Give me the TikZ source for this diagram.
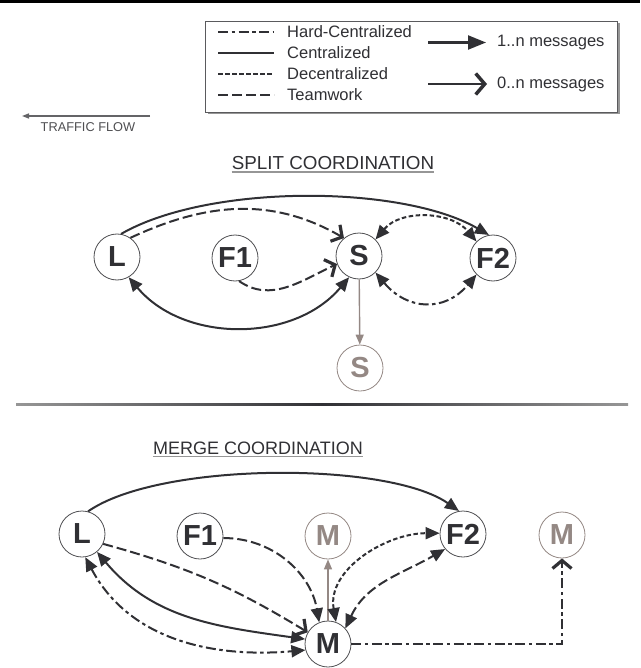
\documentclass[tikz,border=0pt]{standalone}
\usepackage{fontspec}
\setmainfont{Liberation Sans}
\usetikzlibrary{arrows.meta}
\definecolor{ink}{RGB}{48,48,52}
\definecolor{ghost}{RGB}{148,136,132}
\definecolor{softgrey}{RGB}{150,150,150}

\begin{document}
\begin{tikzpicture}[x=1pt,y=1pt,
  every node/.style={inner sep=0pt, text=ink},
  agent/.style={circle, draw=ink!85, line width=0.8pt, fill=white, minimum size=46pt,
    font=\fontsize{29}{29}\selectfont\bfseries},
  ghostagent/.style={agent, draw=ghost, text=ghost},
  link/.style={draw=ink, line width=2pt},
  hardc/.style={link, dash pattern=on 10pt off 3.5pt on 3.5pt off 3.5pt},
  central/.style={link},
  decentral/.style={link, dash pattern=on 4.5pt off 2.5pt},
  teamwork/.style={link, dash pattern=on 10pt off 4pt},
  one/.style={-{Triangle[length=14pt,width=12pt]}},
  both/.style={{Triangle[length=14pt,width=12pt]}-{Triangle[length=14pt,width=12pt]}},
  zero/.style={-{Straight Barb[length=8pt,width=19pt,line width=3.2pt]}},
  ghostline/.style={draw=ghost, line width=1.4pt, -{Triangle[length=10pt,width=8pt]}},
  legendtext/.style={anchor=west, font=\fontsize{16.5}{18}\selectfont},
  heading/.style={font=\fontsize{18}{21}\selectfont},
]
\useasboundingbox (0,0) rectangle (640,-668);

% top rule
\fill[black] (0,0) rectangle (640,-3.2);

% legend box with drop shadow
\fill[softgrey] (207.5,-23.5) rectangle (619.5,-114.5);
\draw[ink!80, line width=0.8pt, fill=white] (205,-21) rectangle (617,-112);

\coordinate (k1a) at (218,-32);  \coordinate (k1b) at (274,-32);
\coordinate (k2a) at (218,-53);  \coordinate (k2b) at (274,-53);
\coordinate (k3a) at (218,-74);  \coordinate (k3b) at (274,-74);
\coordinate (k4a) at (218,-95);  \coordinate (k4b) at (274,-95);
\draw[hardc, line width=1.6pt] (k1a) -- (k1b);
\draw[central, line width=1.6pt] (k2a) -- (k2b);
\draw[decentral, line width=1.6pt] (k3a) -- (k3b);
\draw[teamwork, line width=1.6pt] (k4a) -- (k4b);
\node[legendtext] (t1) at (287,-32) {Hard-Centralized};
\node[legendtext] (t2) at (287,-53) {Centralized};
\node[legendtext] (t3) at (287,-74) {Decentralized};
\node[legendtext] (t4) at (287,-95) {Teamwork};

\coordinate (a1a) at (428,-42.5); \coordinate (a1b) at (486,-42.5);
\coordinate (a2a) at (428,-84);   \coordinate (a2b) at (487,-84);
\draw[link, line width=2.2pt, -{Triangle[length=18pt,width=14pt]}] (a1a) -- (a1b);
\draw[link, line width=2.2pt, -{Straight Barb[length=9pt,width=21pt,line width=3.5pt]}] (a2a) -- (a2b);
\node[legendtext] (t5) at (497,-42.5) {1..n messages};
\node[legendtext] (t6) at (497,-84) {0..n messages};

% traffic direction
\coordinate (tfa) at (150,-116);
\coordinate (tfb) at (22,-116);
\draw[ink!75, line width=1.3pt, -{Triangle[length=7pt,width=5pt]}] (tfa) -- (tfb);
\node[font=\fontsize{12.8}{14}\selectfont, text=ink!85] (tflow) at (88,-127.5) {TRAFFIC FLOW};

% ---------- split coordination ----------
\node[heading, font=\fontsize{18.8}{21}\selectfont] (tsplit) at (333,-163) {SPLIT COORDINATION};
\draw[softgrey, line width=1.3pt] ([yshift=-2.5pt]tsplit.base west) -- ([yshift=-2.5pt]tsplit.base east);

\node[agent] (sL) at (117,-257) {L};
\node[agent] (sF1) at (235,-258) {F1};
\node[agent] (sS) at (359,-256) {S};
\node[agent] (sF2) at (493,-258) {F2};
\node[ghostagent] (sS2) at (360,-368) {S};

\draw[central, one] (sL.80) to[out=30,in=150,looseness=0.7] (sF2.100);
\draw[teamwork, zero] (sL.55) to[out=25,in=150] (sS.130);
\draw[teamwork, zero] (sF1.-80) to[out=-35,in=205] (sS.200);
\draw[central, both] (sL.-60) to[out=-50,in=-130] (sS.-115);
\draw[decentral, both] (sS.45) to[out=50,in=130] (sF2.135);
\draw[hardc, both] (sS.-45) to[out=-50,in=-130,looseness=1.25] (sF2.-135);
\draw[ghostline] (sS) -- (sS2);

% separator
\shade[left color=softgrey, right color=softgrey, middle color=ink] (16,-403.2) rectangle (628,-405.3);

% ---------- merge coordination ----------
\node[heading] (tmerge) at (258,-448) {MERGE COORDINATION};
\draw[softgrey, line width=1.3pt] ([yshift=-2.5pt]tmerge.base west) -- ([yshift=-2.5pt]tmerge.base east);

\node[agent] (mL) at (82,-534) {L};
\node[agent] (mF1) at (200,-536) {F1};
\node[ghostagent] (mMup) at (328,-536) {M};
\node[agent] (mF2) at (463,-534) {F2};
\node[ghostagent] (mMr) at (562,-535) {M};
\node[agent] (mM) at (328,-644) {M};

\draw[central, one] (mL.75) to[out=35,in=145,looseness=0.6] (mF2.100);
\draw[teamwork, one] (mF1.-5) to[out=0,in=100] (mM.112);
\draw[teamwork, zero] (mL.-25) to[bend left=8] (mM.150);
\draw[central, both] (mL.-50) to[out=-50,in=172] (mM.168);
\draw[hardc, both] (mL.-82) to[out=-62,in=185] (mM.195);
\draw[ghostline] (mM) -- (mMup);
\draw[decentral, both] (mM.70) to[out=100,in=180] (mF2.178);
\draw[teamwork, both] (mM.42) to[out=65,in=210] (mF2.220);
\draw[hardc, zero] (mM) -| (mMr);
\end{tikzpicture}
\end{document}
